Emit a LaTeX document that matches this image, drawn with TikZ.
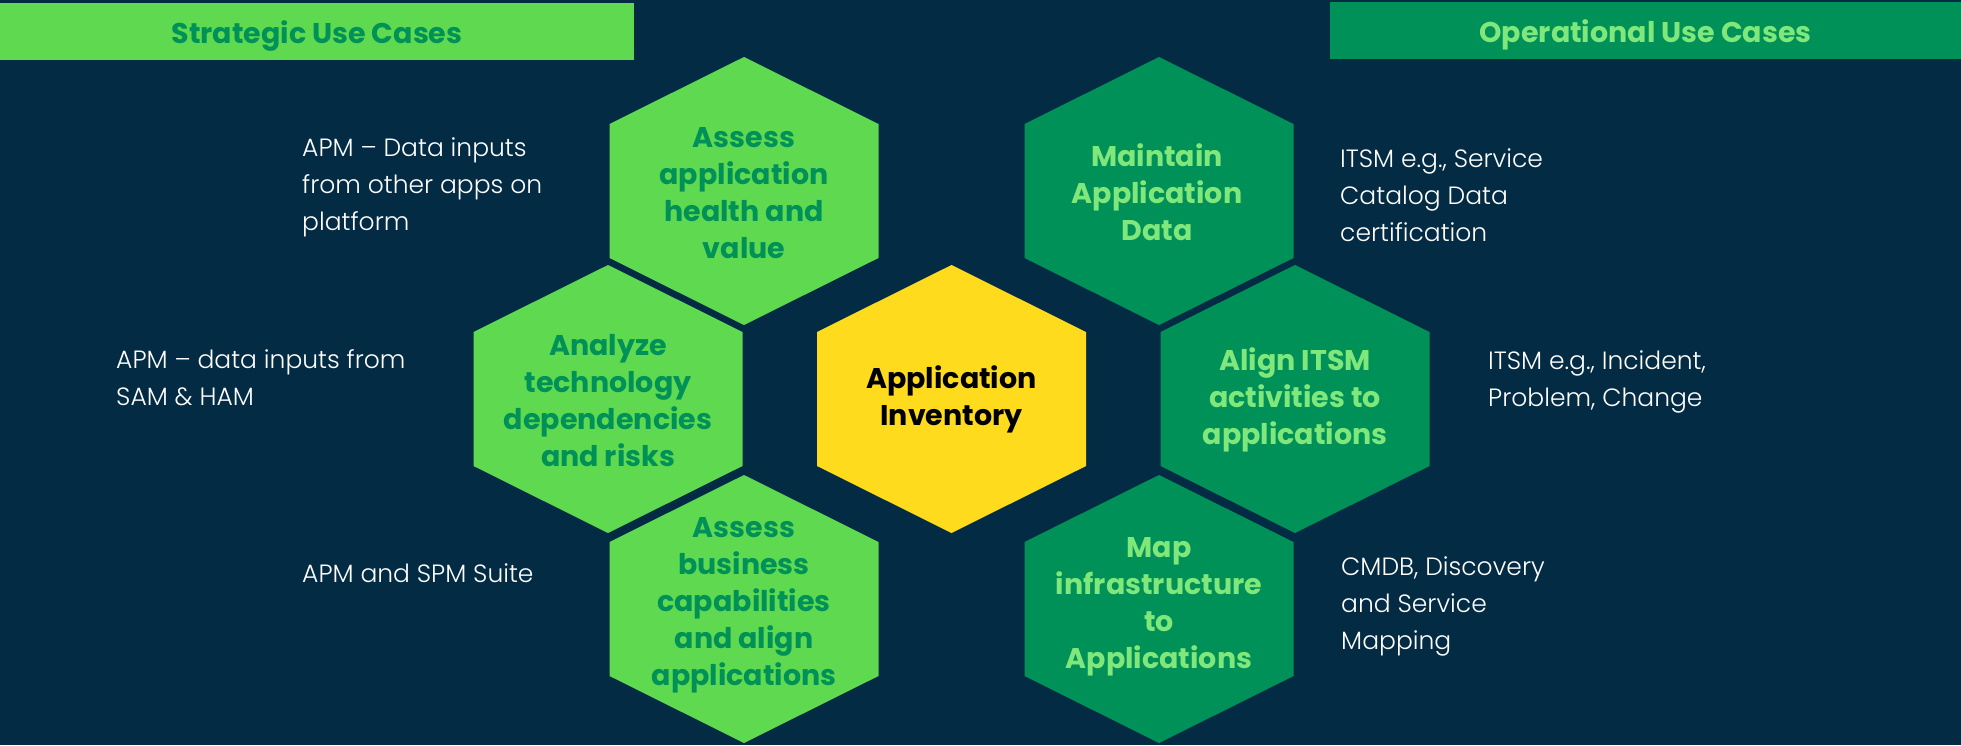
\documentclass[tikz,border=0pt]{standalone}
\usepackage{fontspec}
\setmainfont{Poppins}
\IfFontExistsTF{Poppins Light}{\newfontfamily\lightfont{Poppins Light}}{\newfontfamily\lightfont{Poppins}}
\usepackage{xcolor}
\definecolor{navy}{HTML}{032C44}
\definecolor{leafgreen}{HTML}{5FD950}
\definecolor{deepgreen}{HTML}{009158}
\definecolor{mintgreen}{HTML}{80E87A}
\definecolor{sunyellow}{HTML}{FFDB1E}
\tikzset{
    every node/.style={inner sep=0pt},
    hexlabel/.style={align=center, font=\bfseries\fontsize{28.5}{37}\selectfont},
    sidelabel/.style={align=left, anchor=west, text=white, font=\lightfont\fontsize{25}{37}\selectfont},
    banner/.style={minimum height=57pt, text height=24pt, text depth=0pt,
        font=\bfseries\fontsize{28.5}{32}\selectfont}
}
% hexagon cell: centre x, centre y, colour
\newcommand{\hexcell}[3]{%
    \fill[#3] (#1,#2) ++(0,-134) -- ++(134.5,67) -- ++(0,134) -- ++(-134.5,67)
        -- ++(-134.5,-67) -- ++(0,-134) -- cycle;}

\begin{document}
\begin{tikzpicture}[x=1pt,y=-1pt]
    \useasboundingbox (0,0) rectangle (1961,745);
    \fill[navy] (0,0) rectangle (1961,745);

    % Headers
    \node[banner, fill=leafgreen, text=deepgreen, minimum width=634pt] (strategic) at (317,31) {Strategic Use Cases};
    \node[banner, fill=deepgreen, text=mintgreen, minimum width=631pt] (operational) at (1645.5,30) {Operational Use Cases};

    % Hexagon cells
    \hexcell{744}{191}{leafgreen}
    \hexcell{608}{399}{leafgreen}
    \hexcell{744}{609}{leafgreen}
    \hexcell{951.5}{399}{sunyellow}
    \hexcell{1159}{191}{deepgreen}
    \hexcell{1295}{399}{deepgreen}
    \hexcell{1159}{609}{deepgreen}

    % Cell texts
    \node[hexlabel, text=deepgreen] (health) at (744,193) {Assess\\application\\health and\\value};
    \node[hexlabel, text=deepgreen] (techrisk) at (608,401) {Analyze\\technology\\dependencies\\and risks};
    \node[hexlabel, text=deepgreen] (capability) at (744,605) {Assess\\business\\capabilities\\and align\\applications};
    \node[hexlabel, text=black] (inventory) at (951.5,399) {Application\\Inventory};
    \node[hexlabel, text=mintgreen] (maintain) at (1157,192) {Maintain\\Application\\Data};
    \node[hexlabel, text=mintgreen] (alignitsm) at (1295,400) {Align ITSM\\activities to\\applications};
    \node[hexlabel, text=mintgreen] (infra) at (1159,607) {Map\\infrastructure\\to\\Applications};

    % Side notes
    \node[sidelabel] (apmdata) at (302,187) {APM – Data inputs\\from other apps on\\platform};
    \node[sidelabel] (apmsam) at (116,378) {APM – data inputs from\\SAM \& HAM};
    \node[sidelabel] (apmspm) at (302,573) {APM and SPM Suite};
    \node[sidelabel] (itsmcat) at (1340,195) {ITSM e.g., Service\\Catalog Data\\certification};
    \node[sidelabel] (itsminc) at (1488,382) {ITSM e.g., Incident,\\Problem, Change};
    \node[sidelabel] (cmdb) at (1341,606) {CMDB, Discovery\\and Service\\Mapping};
\end{tikzpicture}
\end{document}
